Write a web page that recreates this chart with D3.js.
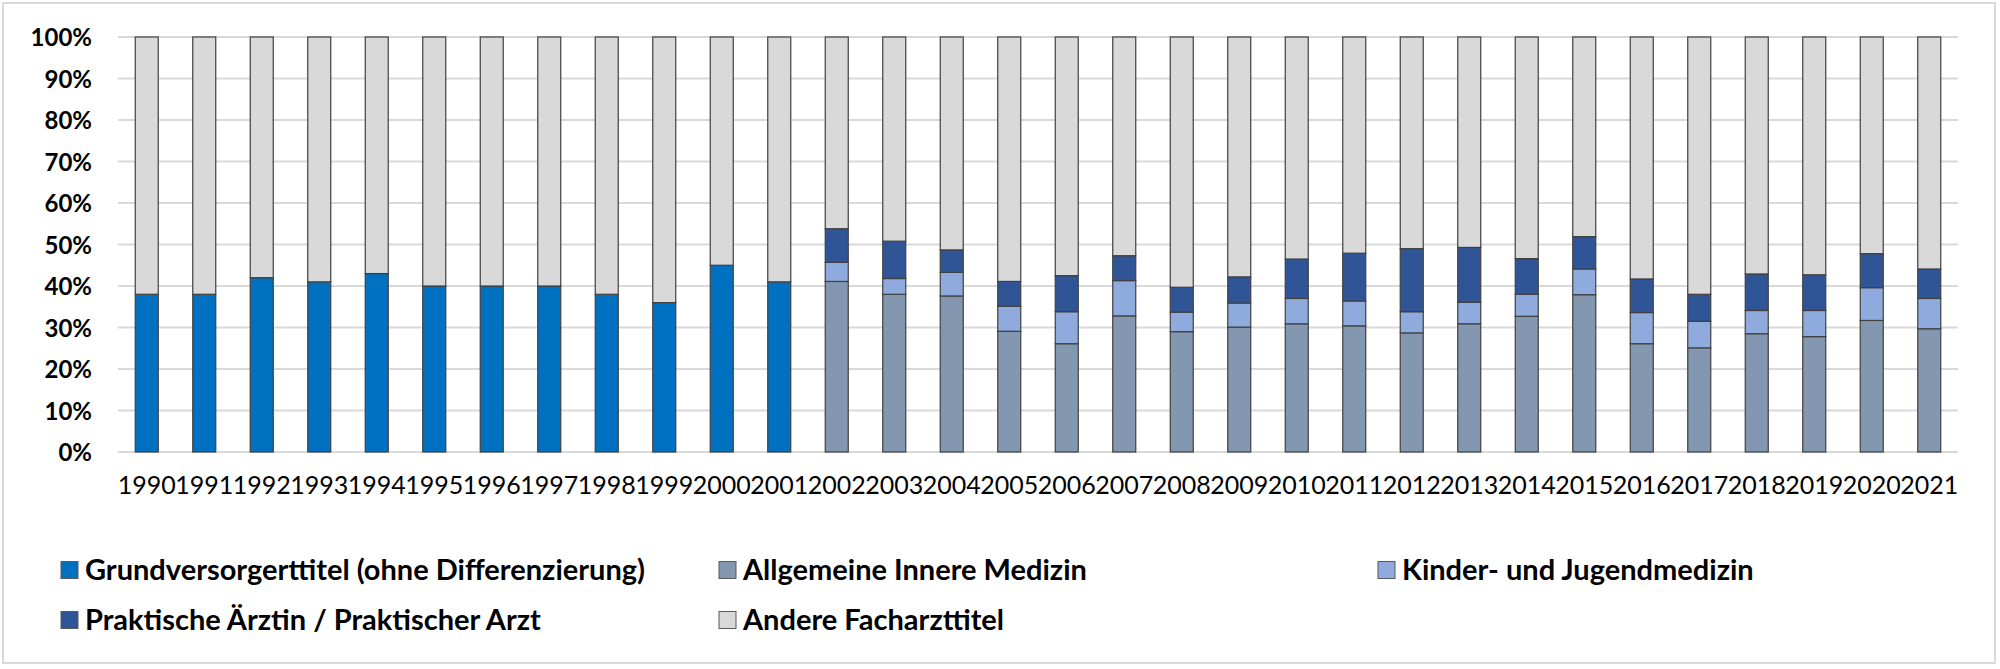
<!DOCTYPE html>
<html>
<head>
<meta charset="utf-8">
<script src="https://cdn.jsdelivr.net/npm/d3@7"></script>
<style>
  html, body { margin: 0; padding: 0; background: #fff; }
  svg text { font-family: Lato, "Open Sans", sans-serif; fill: #000; }
</style>
</head>
<body>
<div id="chart"></div>
<script>
var years = d3.range(1990, 2022).map(String);

// shares in percent
var grundversorger = [38, 38, 42, 41, 43, 40, 40, 40, 38, 36, 45, 41,
  0, 0, 0, 0, 0, 0, 0, 0, 0, 0, 0, 0, 0, 0, 0, 0, 0, 0, 0, 0];
var innereMedizin = [0, 0, 0, 0, 0, 0, 0, 0, 0, 0, 0, 0,
  41.1, 38.0, 37.6, 29.1, 26.1, 32.8, 29.0, 30.1, 30.9, 30.4,
  28.7, 30.9, 32.7, 37.9, 26.1, 25.1, 28.5, 27.8, 31.7, 29.7];
var kinderJugend = [0, 0, 0, 0, 0, 0, 0, 0, 0, 0, 0, 0,
  4.6, 3.8, 5.7, 6.0, 7.7, 8.5, 4.7, 5.8, 6.1, 6.0,
  5.1, 5.2, 5.3, 6.2, 7.5, 6.4, 5.6, 6.3, 7.9, 7.3];
var praktisch = [0, 0, 0, 0, 0, 0, 0, 0, 0, 0, 0, 0,
  8.1, 9.0, 5.4, 6.0, 8.7, 6.0, 6.0, 6.3, 9.5, 11.5,
  15.2, 13.2, 8.6, 7.8, 8.1, 6.5, 8.8, 8.6, 8.2, 7.1];

var seriesNames = [
  'Grundversorgerttitel (ohne Differenzierung)',
  'Allgemeine Innere Medizin',
  'Kinder- und Jugendmedizin',
  'Praktische Ärztin / Praktischer Arzt',
  'Andere Facharzttitel'
];
var seriesColors = ['#0070C0', '#8497B0', '#8FAADC', '#2F5597', '#D9D9D9'];
var yTicks = [0, 10, 20, 30, 40, 50, 60, 70, 80, 90, 100];

var width = 2000, height = 669;
var margin = { top: 37, right: 42, bottom: 217, left: 118 };

var rows = years.map(function(y, i) {
  var sum = grundversorger[i] + innereMedizin[i] + kinderJugend[i] + praktisch[i];
  return {
    year: y,
    s0: grundversorger[i],
    s1: innereMedizin[i],
    s2: kinderJugend[i],
    s3: praktisch[i],
    s4: 100 - sum
  };
});

var keys = ['s0', 's1', 's2', 's3', 's4'];
var stacked = d3.stack().keys(keys)(rows);

var svg = d3.select('#chart').append('svg')
  .attr('width', width)
  .attr('height', height);

// outer frame
svg.append('rect')
  .attr('x', 3).attr('y', 3)
  .attr('width', 1992).attr('height', 660)
  .attr('fill', '#fff')
  .attr('stroke', '#D9D9D9')
  .attr('stroke-width', 2);

var x = d3.scaleBand()
  .domain(years)
  .range([margin.left, width - margin.right])
  .paddingInner(0.6)
  .paddingOuter(0.3);

var y = d3.scaleLinear()
  .domain([0, 100])
  .range([height - margin.bottom, margin.top]);

// gridlines
svg.append('g')
  .selectAll('line')
  .data(yTicks)
  .enter().append('line')
  .attr('x1', margin.left)
  .attr('x2', width - margin.right)
  .attr('y1', function(d) { return y(d); })
  .attr('y2', function(d) { return y(d); })
  .attr('stroke', '#D9D9D9')
  .attr('stroke-width', 2);

// y axis labels
var yAxis = d3.axisLeft(y)
  .tickValues(yTicks)
  .tickSize(0)
  .tickPadding(26)
  .tickFormat(function(d) { return d + '%'; });

svg.append('g')
  .attr('transform', 'translate(' + margin.left + ',0)')
  .call(yAxis)
  .call(function(g) { g.select('.domain').remove(); })
  .selectAll('text')
  .style('font-family', 'Lato, sans-serif')
  .style('font-size', '24px')
  .style('font-weight', 'bold')
  .attr('dy', '0.36em');

// stacked bars
svg.append('g')
  .selectAll('g')
  .data(stacked)
  .enter().append('g')
  .attr('fill', function(d, i) { return seriesColors[i]; })
  .selectAll('rect')
  .data(function(d) { return d.filter(function(p) { return p[1] - p[0] > 0; }); })
  .enter().append('rect')
  .attr('x', function(d) { return x(d.data.year); })
  .attr('y', function(d) { return y(d[1]); })
  .attr('width', x.bandwidth())
  .attr('height', function(d) { return y(d[0]) - y(d[1]); })
  .attr('stroke', '#404040')
  .attr('stroke-width', 1.2);

// x axis labels
var xAxis = d3.axisBottom(x).tickSize(0).tickPadding(24);
svg.append('g')
  .attr('transform', 'translate(0,' + (height - margin.bottom) + ')')
  .call(xAxis)
  .call(function(g) { g.select('.domain').remove(); })
  .selectAll('text')
  .style('font-family', 'Lato, sans-serif')
  .style('font-size', '25px');

// legend
var legendPos = [
  { x: 61, y: 570 }, { x: 719, y: 570 }, { x: 1378, y: 570 },
  { x: 61, y: 620 }, { x: 719, y: 620 }
];
var legend = svg.append('g')
  .selectAll('g')
  .data(seriesNames)
  .enter().append('g')
  .attr('transform', function(d, i) {
    return 'translate(' + legendPos[i].x + ',' + legendPos[i].y + ')';
  });

legend.append('rect')
  .attr('x', 0).attr('y', -8.5)
  .attr('width', 17).attr('height', 17)
  .attr('fill', function(d, i) { return seriesColors[i]; })
  .attr('stroke', '#595959')
  .attr('stroke-width', 1);

legend.append('text')
  .attr('x', 24)
  .attr('dy', '0.36em')
  .style('font-size', '29px')
  .style('font-weight', 'bold')
  .text(function(d) { return d; });
</script>
</body>
</html>
